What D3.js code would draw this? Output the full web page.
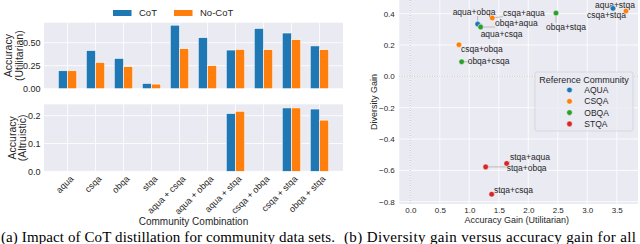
<!DOCTYPE html>
<html><head><meta charset="utf-8">
<script src="https://cdn.jsdelivr.net/npm/d3@7/dist/d3.min.js"></script>
<style>body{margin:0;background:#fff}svg{display:block}</style>
</head><body>
<svg id="c" width="640" height="244"></svg>
<script>
// ---------- data ----------
const categories = ["aqua","csqa","obqa","stqa","aqua + csqa","aqua + obqa","aqua + stqa","csqa + obqa","csqa + stqa","obqa + stqa"];
const cotUtil   = [0.195,0.415,0.330,0.058,0.690,0.555,0.420,0.655,0.605,0.465];
const noCotUtil = [0.195,0.285,0.240,0.050,0.435,0.250,0.427,0.424,0.533,0.424];
const cotAltr   = [0,0,0,0,0,0,0.208,0,0.228,0.224];
const noCotAltr = [0,0,0,0,0,0,0.216,0,0.228,0.184];
const utilTicks = [0,0.25,0.5];
const altrTicks = [0,0.1,0.2];
const seriesNames = ["CoT","No-CoT"];

const pairLabels = ["aqua+obqa","aqua+csqa","aqua+stqa","csqa+aqua","csqa+obqa","csqa+stqa","obqa+aqua","obqa+csqa","obqa+stqa","stqa+aqua","stqa+obqa","stqa+csqa"];
const refCommunity = ["AQUA","AQUA","AQUA","CSQA","CSQA","CSQA","OBQA","OBQA","OBQA","STQA","STQA","STQA"];
const accGain = [1.142,1.181,3.436,1.390,0.825,3.656,1.193,0.871,2.470,1.634,1.278,1.380];
const divGain = [0.334,0.321,0.434,0.373,0.202,0.417,0.315,0.093,0.404,-0.556,-0.578,-0.752];
const communities = ["AQUA","CSQA","OBQA","STQA"];
const accTicks = [0,0.5,1.0,1.5,2.0,2.5,3.0,3.5];
const divTicks = [-0.8,-0.6,-0.4,-0.2,0.0,0.2,0.4];

// ---------- styles ----------
const BG = "#EAEAF2", TXT = "#262626";
const barColors = ["#1f77b4","#ff7f0e"];
const commColor = d3.scaleOrdinal().domain(communities).range(["#1f77b4","#ff7f0e","#2ca02c","#d62728"]);
const FONT = "'Liberation Sans', Arial, sans-serif";
const SERIF = "'Liberation Serif','Times New Roman',serif";
const svg = d3.select("#c").style("font-family", FONT);

// ---------- left panel ----------
const x = d3.scaleLinear().domain([-0.84, 9.84]).range([44, 343]);
const bw = 0.33;
const panels = [
  {y: d3.scaleLinear().domain([0,0.717]).range([88.7,22.7]), ticks: utilTicks, fmt: d3.format(".2f"), data:[cotUtil,noCotUtil], lab:["Accuracy","(Utilitarian)"], labX:[8,19]},
  {y: d3.scaleLinear().domain([0,0.241]).range([171.3,104.3]), ticks: altrTicks, fmt: d3.format(".1f"), data:[cotAltr,noCotAltr], lab:["Accuracy","(Altruistic)"], labX:[12,22]}
];
panels.forEach(p => {
  const [y0,y1] = p.y.range();
  const g = svg.append("g");
  g.append("rect").attr("x",x.range()[0]).attr("y",y1).attr("width",x.range()[1]-x.range()[0]).attr("height",y0-y1).attr("fill",BG);
  g.selectAll(".hg").data(p.ticks).join("line").attr("x1",x.range()[0]).attr("x2",x.range()[1])
    .attr("y1",d=>p.y(d)).attr("y2",d=>p.y(d)).attr("stroke","#fff").attr("stroke-width",0.8);
  g.selectAll(".vg").data(categories).join("line").attr("y1",y0).attr("y2",y1)
    .attr("x1",(d,i)=>x(i)).attr("x2",(d,i)=>x(i)).attr("stroke","#fff").attr("stroke-width",0.8);
  p.data.forEach((vals,s) => {
    g.selectAll(null).data(vals.map((v,i)=>({v,i})).filter(d=>d.v>0)).join("rect")
      .attr("x",d=>x(d.i + (s===0?-bw:0))).attr("width",x(bw)-x(0))
      .attr("y",d=>p.y(d.v)).attr("height",d=>p.y(0)-p.y(d.v))
      .attr("fill",barColors[s]).attr("stroke","#fff").attr("stroke-width",0.6);
  });
  const ax = svg.append("g").attr("transform",`translate(${x.range()[0]},0)`)
    .call(d3.axisLeft(p.y).tickValues(p.ticks).tickFormat(p.fmt).tickSize(0).tickPadding(3.5));
  ax.select(".domain").remove();
  ax.selectAll("text").attr("fill",TXT).style("font-size","9px").style("font-family",FONT);
  const cy = (y0+y1)/2;
  p.lab.forEach((t,k)=>{
    svg.append("text").attr("transform",`translate(${p.labX[k]},${cy}) rotate(-90)`)
      .attr("text-anchor","middle").attr("dy","0.35em").attr("fill",TXT).style("font-size","10.5px").text(t);
  });
});
// x tick labels
svg.selectAll(".xt").data(categories).join("text")
  .attr("transform",(d,i)=>`translate(${x(i)+2},${175}) rotate(-45)`)
  .attr("text-anchor","end").attr("dy","0.7em").attr("fill",TXT).style("font-size","9px").text(d=>d);
svg.append("text").attr("x",193.5).attr("y",221).attr("dy","0.35em").attr("text-anchor","middle")
  .attr("fill",TXT).style("font-size","10px").text("Community Combination");
// legend
const lgX = [113,174];
seriesNames.forEach((n,s)=>{
  svg.append("rect").attr("x",lgX[s]).attr("y",10).attr("width",18.5).attr("height",6).attr("fill",barColors[s]);
  svg.append("text").attr("x",lgX[s]+26).attr("y",13).attr("dy","0.35em").attr("fill",TXT).style("font-size","9.5px").text(n);
});

// ---------- right panel ----------
const sx = d3.scaleLinear().domain([-0.186, 3.86]).range([399.3, 638]);
const sy = d3.scaleLinear().domain([-0.8, 0.4]).range([201.7, 13.7]);
const plotTop = 0, plotBottom = 204;
const r = svg.append("g");
r.append("rect").attr("x",sx.range()[0]).attr("y",plotTop).attr("width",sx.range()[1]-sx.range()[0]).attr("height",plotBottom-plotTop).attr("fill",BG);
r.selectAll(".gx").data(accTicks).join("line").attr("x1",d=>sx(d)).attr("x2",d=>sx(d)).attr("y1",plotTop).attr("y2",plotBottom).attr("stroke","#fff").attr("stroke-width",0.8);
r.selectAll(".gy").data(divTicks).join("line").attr("y1",d=>sy(d)).attr("y2",d=>sy(d)).attr("x1",sx.range()[0]).attr("x2",sx.range()[1]).attr("stroke","#fff").attr("stroke-width",0.8);
r.append("line").attr("x1",sx(0)).attr("x2",sx(0)).attr("y1",plotTop).attr("y2",plotBottom).attr("stroke","#aaa").attr("stroke-width",0.7).attr("stroke-dasharray","1,1.5");
r.append("line").attr("y1",sy(0)).attr("y2",sy(0)).attr("x1",sx.range()[0]).attr("x2",sx.range()[1]).attr("stroke","#aaa").attr("stroke-width",0.7).attr("stroke-dasharray","1,1.5");

const axY = svg.append("g").attr("transform",`translate(${sx.range()[0]},0)`)
  .call(d3.axisLeft(sy).tickValues(divTicks).tickFormat(d3.format(".1f")).tickSize(0).tickPadding(4.5));
axY.select(".domain").remove();
axY.selectAll("text").attr("fill",TXT).style("font-size","8px").style("font-family",FONT);
const axX = svg.append("g").attr("transform",`translate(0,${plotBottom})`)
  .call(d3.axisBottom(sx).tickValues(accTicks).tickFormat(d3.format(".1f")).tickSize(0).tickPadding(3.5));
axX.select(".domain").remove();
axX.selectAll("text").attr("fill",TXT).style("font-size","8px").style("font-family",FONT);
svg.append("text").attr("transform",`translate(374.3,102) rotate(-90)`).attr("text-anchor","middle").attr("dy","0.35em")
  .attr("fill",TXT).style("font-size","9px").text("Diversity Gain");
svg.append("text").attr("x",516.7).attr("y",220).attr("dy","0.35em").attr("text-anchor","middle")
  .attr("fill",TXT).style("font-size","9px").text("Accuracy Gain (Utilitarian)");

// annotation placement (pixel offsets of label start / centre from point)
const labelOff = [[-25,-12],[0.7,8],[-18,-3.7],[10.7,-5.3],[2,4.6],[-39,4],[14.3,-4],[6,-1],[-10,13.7],[3.3,-6],[21,1.6],[2.3,-4]];
const pts = pairLabels.map((n,i)=>({n, c:refCommunity[i], px:sx(accGain[i]), py:sy(divGain[i]), o:labelOff[i]}));
const ann = svg.append("g");
pts.forEach(p=>{
  const tx = p.px+p.o[0], ty = p.py+p.o[1];
  const t = ann.append("text").attr("x",tx).attr("y",ty).attr("dy","0.35em").attr("fill",TXT).style("font-size","8.5px").text(p.n);
  const w = t.node().getComputedTextLength();
  const cx = Math.max(tx, Math.min(p.px, tx+w));
  const cy = Math.max(ty-4, Math.min(p.py, ty+4));
  ann.insert("line","text").attr("x1",cx).attr("y1",cy).attr("x2",p.px).attr("y2",p.py).attr("stroke","#999").attr("stroke-width",0.6);
});
const pointOrder = [1,0,2,3,4,5,6,7,8,9,10,11];
svg.selectAll(".pt").data(pointOrder.map(i=>pts[i])).join("circle")
  .attr("cx",d=>d.px).attr("cy",d=>d.py).attr("r",2.8).attr("fill",d=>commColor(d.c)).attr("stroke","#fff").attr("stroke-width",0.5);

// legend
const lg = svg.append("g");
lg.append("rect").attr("x",535).attr("y",72).attr("width",98).attr("height",59).attr("rx",2)
  .attr("fill",BG).attr("fill-opacity",0.8).attr("stroke","#d0d0d8").attr("stroke-width",0.7);
lg.append("text").attr("x",584).attr("y",79.5).attr("dy","0.35em").attr("text-anchor","middle").attr("fill",TXT).style("font-size","9px").text("Reference Community");
communities.forEach((c,k)=>{
  const yy = 90 + k*11.3;
  lg.append("circle").attr("cx",569.5).attr("cy",yy).attr("r",2.8).attr("fill",commColor(c)).attr("stroke","#fff").attr("stroke-width",0.5);
  lg.append("text").attr("x",584.3).attr("y",yy).attr("dy","0.35em").attr("fill",TXT).style("font-size","8.5px").text(c);
});

// captions
svg.append("text").attr("x",1).attr("y",242).attr("fill","#000").style("font-family",SERIF).style("font-size","15px")
  .attr("textLength",334).attr("lengthAdjust","spacing")
  .text("(a) Impact of CoT distillation for community data sets.");
svg.append("text").attr("x",344).attr("y",242).attr("fill","#000").style("font-family",SERIF).style("font-size","15px")
  .attr("textLength",292).attr("lengthAdjust","spacing")
  .text("(b) Diversity gain versus accuracy gain for all");
</script>
</body></html>
